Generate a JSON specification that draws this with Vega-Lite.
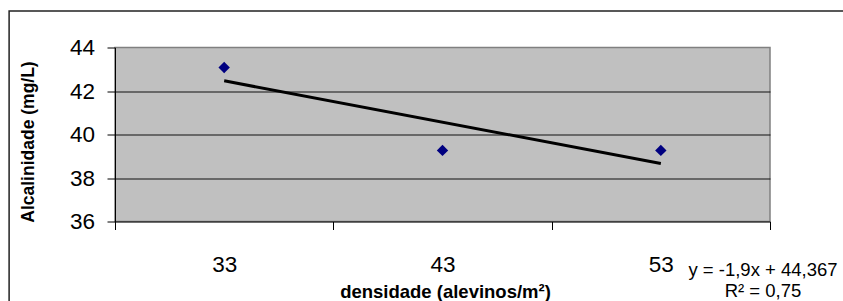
{
  "$schema": "https://vega.github.io/schema/vega-lite/v6.json",
  "autosize": "none",
  "width": 655,
  "height": 174,
  "padding": {"left": 115, "top": 47.5, "right": 73, "bottom": 79.5},
  "background": "white",
  "config": {
    "view": {"fill": "#C0C0C0", "stroke": "#808080", "strokeWidth": 1.5},
    "font": "Liberation Sans"
  },
  "datasets": {
    "obs": [
      {"densidade": 33, "alcalinidade": 43.08},
      {"densidade": 43, "alcalinidade": 39.27},
      {"densidade": 53, "alcalinidade": 39.27}
    ],
    "trend": [
      {"densidade": 33, "ajuste": 42.467},
      {"densidade": 53, "ajuste": 38.667}
    ]
  },
  "layer": [
    {
      "data": {"values": [{}]},
      "mark": {"type": "rect", "fill": null, "stroke": "#222222", "strokeWidth": 1.5, "clip": false},
      "encoding": {
        "x": {"datum": 23.15, "type": "quantitative", "scale": {"domain": [28, 58]}},
        "x2": {"datum": 75},
        "y": {"datum": 45.68, "type": "quantitative", "scale": {"domain": [36, 44]}},
        "y2": {"datum": 28}
      }
    },
    {
      "data": {"name": "trend"},
      "mark": {"type": "line", "color": "black", "strokeWidth": 3, "strokeCap": "butt"},
      "encoding": {
        "x": {"field": "densidade", "type": "quantitative"},
        "y": {"field": "ajuste", "type": "quantitative"}
      }
    },
    {
      "data": {"name": "obs"},
      "mark": {"type": "point", "shape": "diamond", "filled": true, "color": "#000080", "size": 130, "opacity": 1},
      "encoding": {
        "x": {
          "field": "densidade",
          "type": "quantitative",
          "scale": {"domain": [28, 58], "nice": false, "zero": false},
          "axis": {
            "values": [28, 33, 38, 43, 48, 53, 58],
            "labelExpr": "(datum.value == 33 || datum.value == 43 || datum.value == 53) ? datum.label : ''",
            "tickOpacity": {"condition": {"test": "datum.value == 33 || datum.value == 43 || datum.value == 53", "value": 0}, "value": 1},
            "tickSize": 8,
            "tickColor": "black",
            "domainColor": "black",
            "domainWidth": 1,
            "grid": false,
            "labelFontSize": 22.5,
            "labelColor": "black",
            "labelPadding": 23.5,
            "labelFlush": false,
            "labelOverlap": false,
            "title": "densidade (alevinos/m²)",
            "titleFontSize": 18.5,
            "titleFontWeight": "bold",
            "titleColor": "black",
            "titleX": 330,
            "titleY": 76,
            "titleBaseline": "alphabetic",
            "titleAnchor": null
          }
        },
        "y": {
          "field": "alcalinidade",
          "type": "quantitative",
          "scale": {"domain": [36, 44], "nice": false, "zero": false},
          "axis": {
            "values": [36, 38, 40, 42, 44],
            "tickSize": 8,
            "tickColor": "black",
            "domainColor": "black",
            "domainWidth": 1,
            "grid": true,
            "gridColor": "#111111",
            "gridWidth": 1,
            "gridOpacity": {"condition": {"test": "datum.value == 44 || datum.value == 36", "value": 0}, "value": 1},
            "labelFontSize": 22.5,
            "labelColor": "black",
            "labelPadding": 12.5,
            "labelFlush": false,
            "title": "Alcalinidade (mg/L)",
            "titleFontSize": 17.5,
            "titleFontWeight": "bold",
            "titleColor": "black",
            "titleX": -78,
            "titleY": 94,
            "titleAngle": 270,
            "titleBaseline": "bottom",
            "titleAlign": "center"
          }
        }
      }
    },
    {
      "data": {"values": [{}]},
      "mark": {
        "type": "text",
        "text": ["y = -1,9x + 44,367", "R² = 0,75"],
        "fontSize": 18.5,
        "lineHeight": 21,
        "align": "center",
        "baseline": "alphabetic",
        "color": "black",
        "clip": false
      },
      "encoding": {
        "x": {"datum": 57.68, "type": "quantitative"},
        "y": {"datum": 33.51, "type": "quantitative"}
      }
    }
  ]
}
